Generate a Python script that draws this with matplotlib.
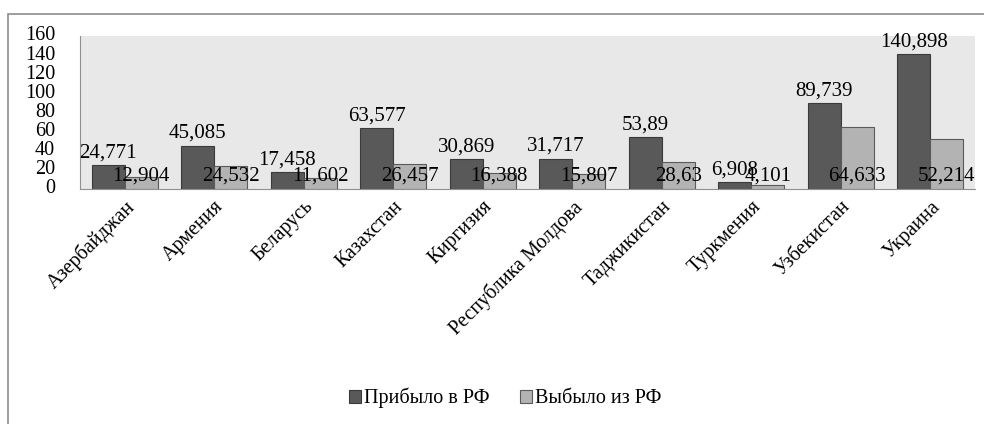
import matplotlib.pyplot as plt
from matplotlib.patches import Rectangle
import numpy as np

plt.rcParams['font.family'] = ['Liberation Serif', 'DejaVu Serif']

countries = ["Азербайджан", "Армения", "Беларусь", "Казахстан", "Киргизия",
             "Республика Молдова", "Таджикистан", "Туркмения", "Узбекистан", "Украина"]
arrived = [24.771, 45.085, 17.458, 63.577, 30.869, 31.717, 53.89, 6.908, 89.739, 140.898]
left = [12.904, 24.532, 11.602, 26.457, 16.388, 15.807, 28.63, 4.101, 64.633, 52.214]
arrived_lbl = ["24,771", "45,085", "17,458", "63,577", "30,869", "31,717", "53,89", "6,908", "89,739", "140,898"]
left_lbl = ["12,904", "24,532", "11,602", "26,457", "16,388", "15,807", "28,63", "4,101", "64,633", "52,214"]

fig = plt.figure(figsize=(9.84, 4.24), dpi=100)
# outer frame
fig.patches.append(Rectangle((8 / 984, -0.01), 1.0, 1 - 14 / 424 + 0.01, transform=fig.transFigure,
                             fill=False, edgecolor="#8c8c8c", linewidth=1.2))

ax = fig.add_axes([80 / 984, 1 - 189 / 424, (975 - 80) / 984, (189 - 36) / 424])
ax.set_facecolor("#e8e8e8")

x = np.arange(len(countries))
w = 0.37
ax.bar(x - w / 2, arrived, w, color="#595959", edgecolor="#3a3a3a", linewidth=0.8, label="Прибыло в РФ")
ax.bar(x + w / 2, left, w, color="#b3b3b3", edgecolor="#5a5a5a", linewidth=0.8, label="Выбыло из РФ")

for i in range(len(countries)):
    ax.text(x[i] - w / 2, arrived[i] + 13, arrived_lbl[i], ha="center", va="center", fontsize=15)
    ax.text(x[i] + w / 2, 14, left_lbl[i], ha="center", va="center", fontsize=15)

ax.set_xlim(-0.5, len(countries) - 0.5)
ax.set_ylim(0, 160)
ax.set_yticks(range(0, 161, 20))
ax.tick_params(axis="y", length=0, labelsize=14.5, pad=18)
ax.tick_params(axis="x", length=0, pad=6)
ax.set_xticks(x)
ax.set_xticklabels(countries, rotation=45, ha="right", rotation_mode="anchor", fontsize=14.5)
for lab in ax.get_yticklabels():
    lab.set_verticalalignment("center")

for s in ["top", "right"]:
    ax.spines[s].set_visible(False)
ax.spines["left"].set_color("#909090")
ax.spines["bottom"].set_color("#909090")

fig.legend(loc="center", bbox_to_anchor=(505 / 984, 1 - 398 / 424), ncol=2, frameon=False,
           fontsize=14.5, handlelength=0.6, handleheight=0.6, handletextpad=0.15, columnspacing=1.5)

fig.savefig("out.png", dpi=100)
